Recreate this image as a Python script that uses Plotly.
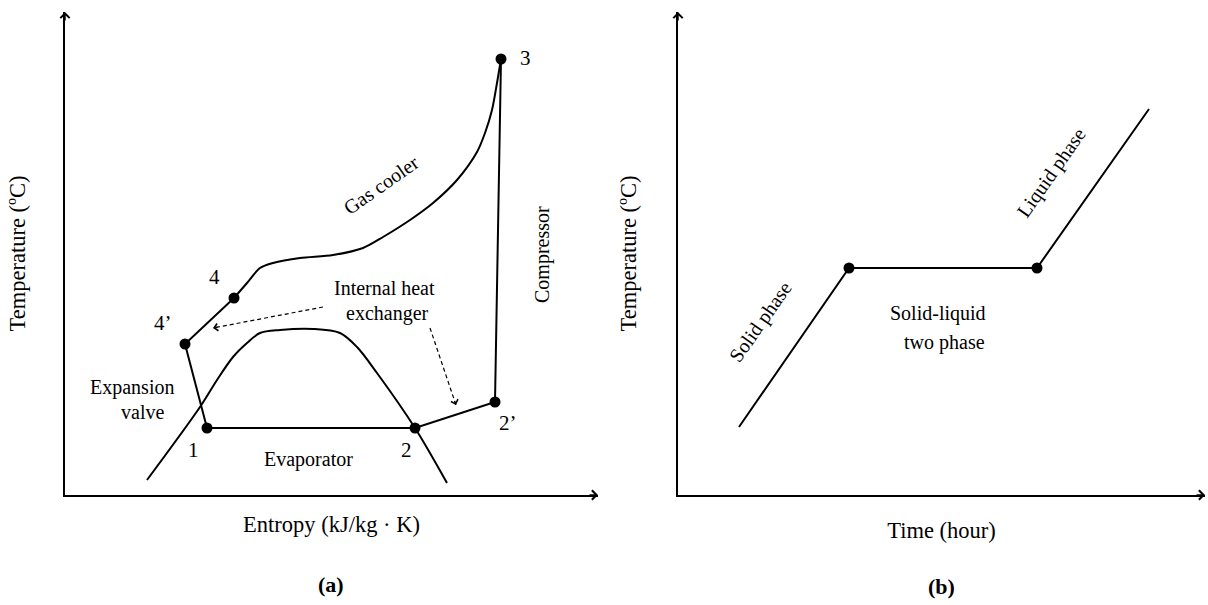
import plotly.graph_objects as go

W, H = 1208, 605
FONT = "Liberation Serif"

# ---------------- Panel (a): T-s diagram (arbitrary units) ----------------
state_names = ["4", "4’", "1", "2", "2’", "3"]
state_s = [169, 120, 142, 350, 430, 436]
state_T = [197, 151, 67, 67, 93, 436]

# gas cooler curve from state 3 down to state 4
gas_s = [436, 432, 427, 420, 412, 392, 368, 345, 318, 298, 268, 235, 208, 195, 182, 169]
gas_T = [436, 412, 385, 362, 343, 315, 292, 275, 258, 247, 240, 237, 232, 227, 212, 197]

# saturation dome
dome_s = [82, 135, 152, 168, 182, 195, 215, 248, 275, 292, 312, 350, 382]
dome_T = [15, 88, 115, 138, 152, 162, 165, 166, 162, 148, 122, 67, 12]

# internal heat exchanger dashed arrows (start -> tip)
ihx1_s = [258, 148]
ihx1_T = [188, 167]
ihx2_s = [365, 391]
ihx2_T = [167, 90]

# ---------------- Panel (b): temperature vs time ----------------
time_b = [61, 171, 359, 471]
temp_b = [68, 227, 227, 386]

# axis extents (arbitrary units)
a_xmax, a_ymax = 533, 483
b_xmax, b_ymax = 527, 483

fig = go.Figure()

line_style = dict(color="black", width=2)

# dome
fig.add_trace(go.Scatter(x=dome_s, y=dome_T, mode="lines",
                         line=dict(color="black", width=2, shape="spline", smoothing=0.9),
                         xaxis="x", yaxis="y", hoverinfo="skip"))
# cycle straight legs 4 -> 4' -> 1 -> 2 -> 2' -> 3
fig.add_trace(go.Scatter(x=state_s, y=state_T, mode="lines", line=line_style,
                         xaxis="x", yaxis="y", hoverinfo="skip"))
# gas cooler
fig.add_trace(go.Scatter(x=gas_s, y=gas_T, mode="lines",
                         line=dict(color="black", width=2, shape="spline", smoothing=0.8),
                         xaxis="x", yaxis="y", hoverinfo="skip"))
# state points
fig.add_trace(go.Scatter(x=state_s, y=state_T, mode="markers",
                         marker=dict(color="black", size=11),
                         xaxis="x", yaxis="y", hoverinfo="skip"))
# dashed IHX lines
for xs, ys in [(ihx1_s, ihx1_T), (ihx2_s, ihx2_T)]:
    fig.add_trace(go.Scatter(x=xs, y=ys, mode="lines",
                             line=dict(color="black", width=1.2, dash="4px,3px"),
                             xaxis="x", yaxis="y", hoverinfo="skip"))

# panel b
fig.add_trace(go.Scatter(x=time_b, y=temp_b, mode="lines", line=line_style,
                         xaxis="x2", yaxis="y2", hoverinfo="skip"))
fig.add_trace(go.Scatter(x=time_b[1:3], y=temp_b[1:3], mode="markers",
                         marker=dict(color="black", size=11),
                         xaxis="x2", yaxis="y2", hoverinfo="skip"))

ann = []


def txt(text, x, y, xref="x", yref="y", size=20, angle=0, bold=False):
    ann.append(dict(text=("<b>%s</b>" % text) if bold else text, x=x, y=y,
                    xref=xref, yref=yref, showarrow=False, textangle=angle,
                    font=dict(family=FONT, size=size, color="black"),
                    xanchor="center", yanchor="middle"))


# state labels
label_pos = {"4": (149, 218), "4’": (98, 172), "1": (128, 45), "2": (341, 45),
             "2’": (443, 72), "3": (460, 437)}
for name in state_names:
    lx, ly = label_pos[name]
    txt(name, lx, ly, size=21)

txt("Expansion", 67, 108)
txt("valve", 77, 83)
txt("Evaporator", 243, 36)
txt("Internal heat", 319, 207)
txt("exchanger", 322, 182)
txt("Gas cooler", 316, 310, angle=-35)
txt("Compressor", 478, 240, angle=-90)

txt("Solid phase", 82, 173, xref="x2", yref="y2", angle=-55)
txt("Liquid phase", 374, 322, xref="x2", yref="y2", angle=-55)
txt("Solid-liquid", 260, 182, xref="x2", yref="y2")
txt("two phase", 266, 153, xref="x2", yref="y2")

txt("(a)", 331 / W, 1 - 584 / H, xref="paper", yref="paper", size=22, bold=True)
txt("(b)", 941 / W, 1 - 586 / H, xref="paper", yref="paper", size=22, bold=True)


def arrowhead(x, y, ax, ay, xref, yref, width, size):
    ann.append(dict(x=x, y=y, ax=ax, ay=ay, xref=xref, yref=yref,
                    text="", showarrow=True, arrowhead=4, arrowwidth=width,
                    arrowsize=size, arrowcolor="black", standoff=0))


# axis arrowheads
arrowhead(a_xmax, 0, -10, 0, "x", "y", 1.5, 1.2)
arrowhead(0, a_ymax, 0, 10, "x", "y", 1.5, 1.2)
arrowhead(b_xmax, 0, -10, 0, "x2", "y2", 1.5, 1.2)
arrowhead(0, b_ymax, 0, 10, "x2", "y2", 1.5, 1.2)

# dashed-arrow heads (direction from data, in screen pixels)
px_per_x = (598 - 65) / a_xmax
px_per_y = (495 - 12) / a_ymax
for xs, ys in [(ihx1_s, ihx1_T), (ihx2_s, ihx2_T)]:
    dx = (xs[1] - xs[0]) * px_per_x
    dy = -(ys[1] - ys[0]) * px_per_y
    n = (dx ** 2 + dy ** 2) ** 0.5
    arrowhead(xs[1], ys[1], -dx / n * 6, -dy / n * 6, "x", "y", 1.1, 1.3)

axis_common = dict(showline=True, linecolor="black", linewidth=2, ticks="",
                   showticklabels=False, showgrid=False, zeroline=False,
                   fixedrange=True, automargin=False)
title_font = dict(family=FONT, size=22.5, color="black")

fig.update_layout(
    width=W, height=H,
    margin=dict(l=0, r=0, t=0, b=0),
    paper_bgcolor="white", plot_bgcolor="white",
    showlegend=False,
    annotations=ann,
    xaxis=dict(domain=[65 / W, 598 / W], range=[0, a_xmax], anchor="y",
               title=dict(text="Entropy (kJ/kg · K)", font=title_font, standoff=20),
               **axis_common),
    yaxis=dict(domain=[1 - 495 / H, 1 - 12 / H], range=[0, a_ymax], anchor="x",
               title=dict(text="Temperature (ºC)", font=title_font, standoff=31),
               **axis_common),
    xaxis2=dict(domain=[678 / W, 1205 / W], range=[0, b_xmax], anchor="y2",
                title=dict(text="Time (hour)", font=title_font, standoff=26),
                **axis_common),
    yaxis2=dict(domain=[1 - 495 / H, 1 - 12 / H], range=[0, b_ymax], anchor="x2",
                title=dict(text="Temperature (ºC)", font=title_font, standoff=33),
                **axis_common),
)

fig.write_html("out.html")
